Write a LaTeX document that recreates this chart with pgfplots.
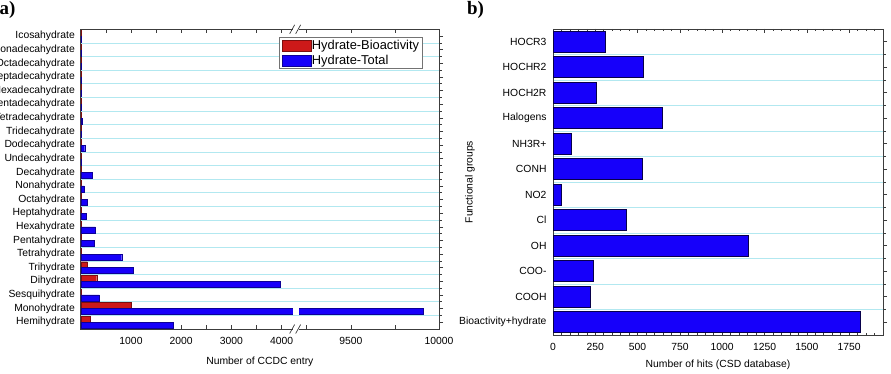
\documentclass[border=0pt]{standalone}
\usepackage{pgfplots}
\usepackage{pgfplotstable}
\pgfplotsset{compat=1.18}
\usepackage{fontspec}
\setmainfont{Liberation Sans}
\newfontfamily\letterfont{Liberation Serif}

\definecolor{barblue}{RGB}{22,0,250}
\definecolor{barred}{RGB}{205,25,25}
\definecolor{gridcyan}{RGB}{178,232,240}
\definecolor{framegray}{RGB}{60,60,60}

% Hydrate entries in the CCDC (index 0 = Hemihydrate ... 21 = Icosahydrate)
\pgfplotstableread{
y val
0 197
1 1000
2 10
3 317
4 130
5 15
6 10
7 5
8 5
9 3
10 2
11 3
12 1
13 2
14 1
15 1
16 1
17 1
18 1
19 1
20 1
21 1
}\bioactivity

\pgfplotstableread{
y val
0 1843
1 9910
2 369
3 3980
4 1046
5 815
6 263
7 289
8 117
9 137
10 64
11 229
12 5
13 78
14 5
15 20
16 5
17 3
18 2
19 2
20 2
21 2
}\hydratetotal

% Functional groups (index 0 = Bioactivity+hydrate ... 11 = HOCR3)
\pgfplotstableread{
y val
0 1817
1 219
2 238
3 1156
4 432
5 47
6 525
7 111
8 647
9 253
10 534
11 308
}\groups

\pgfplotsset{
  panel/.style={
    scale only axis, anchor=south west,
    axis line style={framegray, line width=0.8bp},
    every tick/.style={framegray, line width=0.6bp},
    tick align=inside,
    major tick length=4bp, minor tick length=2.5bp,
    tick label style={font=\fontsize{10.4}{12}\selectfont},
    label style={font=\fontsize{10.4}{12}\selectfont},
    /pgf/number format/assume math mode=true,
    /pgf/number format/set thousands separator={},
    scaled x ticks=false,
    ytick pos=right, yticklabel pos=left,
    yminorgrids, minor grid style={gridcyan, line width=0.6bp},
    xticklabel style={yshift=-5bp},
  },
  swatch/.style={legend image code/.code={\draw[##1] (0bp,-5.5bp) rectangle (29bp,5.5bp);}},
}

\begin{document}
\begin{tikzpicture}
\useasboundingbox (0bp,0bp) rectangle (891bp,374bp);

% ---------- a) hydrate counts, broken x axis ----------
\begin{axis}[panel,
  at={(80.8bp,45bp)}, width=358.2bp, height=299.7bp,
  xbar, bar width=0.44,
  xmin=0, xmax=7135.5, ymin=-0.5, ymax=21.5,
  % values above the break are compressed onto the right segment
  x filter/.expression={x<=4290 ? x : 4290+(x-9190)*3.513},
  xtick={500,1000,1500,2000,2500,3000,3500,4000,4500.8,5379,6257.3,7135.5},
  xticklabels={,1000,,2000,,3000,,4000,,9500,,10000},
  ytick={0,...,21},
  yticklabels={Hemihydrate,Monohydrate,Sesquihydrate,Dihydrate,Trihydrate,
    Tetrahydrate,Pentahydrate,Hexahydrate,Heptahydrate,Octahydrate,Nonahydrate,
    Decahydrate,Undecahydrate,Dodecahydrate,Tridecahydrate,Tetradecahydrate,
    Pentadecahydrate,Hexadecahydrate,Heptadecahydrate,Octadecahydrate,
    Nonadecahydrate,Icosahydrate},
  yticklabel style={xshift=1.5bp},
  minor ytick={0.5,1.5,...,20.5},
  xlabel={Number of CCDC entry},
  xlabel style={at={(axis description cs:0.5,-0.108)}, anchor=center},
  legend style={at={(0.554,0.973)}, anchor=north west, draw=black!55,
    line width=0.6bp, fill=white, font=\fontsize{12.9}{14}\selectfont,
    inner xsep=2bp, inner ysep=1.5bp, row sep=2bp,
    nodes={inner sep=1bp},
    /tikz/every even column/.append style={column sep=4.5bp}},
  legend cell align=left,
]
\addplot[fill=barred, draw=barred!60!black, line width=0.4bp, bar shift=0.22, swatch]
  table[x=val, y=y]{\bioactivity};
\addplot[fill=barblue, draw=barblue!60!black, line width=0.4bp, bar shift=-0.22, swatch]
  table[x=val, y=y]{\hydratetotal};
\legend{Hydrate-Bioactivity, Hydrate-Total}
% gap in the long bar where the axis is broken
\fill[white] (axis cs:4233,0.52) rectangle (axis cs:4352,1.02);
\coordinate (brkbot) at (axis cs:4290,-0.5);
\coordinate (brktop) at (axis cs:4290,21.5);
\end{axis}

% axis-break marks
\foreach \c in {brkbot,brktop}{
  \fill[white] ([xshift=-3bp,yshift=-1.5bp]\c) rectangle ([xshift=3bp,yshift=1.5bp]\c);
  \draw[framegray, line width=0.7bp]
    ([xshift=-6.5bp,yshift=-4.5bp]\c) -- ([xshift=-1.5bp,yshift=4.5bp]\c)
    ([xshift=-0.5bp,yshift=-4.5bp]\c) -- ([xshift=4.5bp,yshift=4.5bp]\c);
}

\node[anchor=base west, inner sep=0pt, font=\letterfont\bfseries\fontsize{19}{20}\selectfont]
  at (-0.5bp,359bp) {a)};

% ---------- b) functional groups ----------
\begin{axis}[panel,
  at={(553bp,39bp)}, width=330bp, height=306bp,
  xbar, bar width=0.82,
  xmin=0, xmax=1950, ymin=-0.5, ymax=11.5,
  xtick={0,250,...,1750},
  minor xtick={50,100,...,1950},
  ytick={0,...,11},
  yticklabels={Bioactivity+hydrate,COOH,COO-,OH,Cl,NO2,CONH,NH3R+,Halogens,
    HOCH2R,HOCHR2,HOCR3},
  yticklabel style={xshift=1bp},
  minor ytick={0.5,1.5,...,10.5},
  xlabel={Number of hits (CSD database)},
  xlabel style={at={(axis description cs:0.5,-0.097)}, anchor=center},
  ylabel={Functional groups},
  ylabel style={at={(axis description cs:-0.2515,0.5)}, anchor=center},
]
\addplot[fill=barblue, draw=black!70!barblue, line width=0.6bp]
  table[x=val, y=y]{\groups};
\end{axis}

\node[anchor=base west, inner sep=0pt, font=\letterfont\bfseries\fontsize{19}{20}\selectfont]
  at (467bp,359bp) {b)};
\end{tikzpicture}
\end{document}
